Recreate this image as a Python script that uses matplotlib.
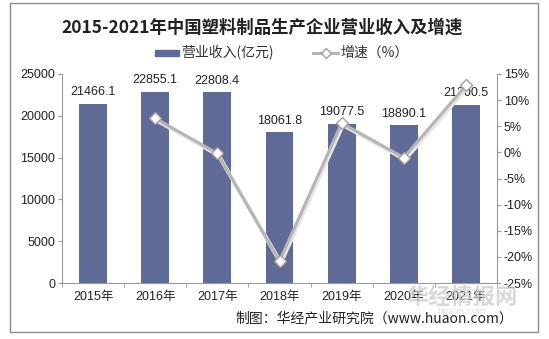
import matplotlib
matplotlib.use("Agg")
import matplotlib.pyplot as plt
from matplotlib.patches import Rectangle
import numpy as np

plt.rcParams['font.family'] = ['Liberation Sans', 'Noto Sans CJK SC', 'DejaVu Sans']

years = ['2015年', '2016年', '2017年', '2018年', '2019年', '2020年', '2021年']
revenue = [21466.1, 22855.1, 22808.4, 18061.8, 19077.5, 18890.1, 21300.5]
growth = [None, 6.5, -0.2, -20.8, 5.6, -1.0, 12.8]
left_ticks = [0, 5000, 10000, 15000, 20000, 25000]
right_ticks = [-25, -20, -15, -10, -5, 0, 5, 10, 15]

W, H = 549, 339
fig = plt.figure(figsize=(W / 100, H / 100), dpi=100)
fig.patch.set_facecolor('white')

# outer border
fig.add_artist(Rectangle((10 / W, 1 - 332 / H), (538 - 10) / W, (332 - 3) / H,
                         transform=fig.transFigure, fill=False, edgecolor='#8c8c8c', lw=1))

ax = fig.add_axes([62 / W, 1 - 283 / H, (497 - 62) / W, (283 - 74) / H])
x = np.arange(len(years))
bar_color = '#5f6b96'
ax.bar(x, revenue, width=0.45, color=bar_color, zorder=2)
ax.set_xlim(-0.5, len(years) - 0.5)
ax.set_ylim(0, 25000)
ax.set_yticks(left_ticks)
ax.set_yticklabels([str(t) for t in left_ticks], fontsize=9, color='#222222')
ax.set_xticks(x)
ax.set_xticklabels(years, fontsize=9, color='#222222')
ax.set_xticks(np.arange(-0.5, len(years) + 0.5, 1), minor=True)
ax.tick_params(axis='x', which='major', length=0, pad=6)
ax.tick_params(axis='x', which='minor', length=3, color='#999999')
ax.tick_params(axis='y', length=3, color='#999999', pad=2)
for s in ['top', 'right']:
    ax.spines[s].set_visible(False)
ax.spines['left'].set_color('#999999')
ax.spines['bottom'].set_color('#999999')

for xi, v in zip(x, revenue):
    ax.text(xi, v + 650, f'{v:.1f}', ha='center', va='bottom', fontsize=9, color='#222222', zorder=5)

ax2 = ax.twinx()
ax2.set_ylim(-25, 15)
ax2.set_yticks(right_ticks)
ax2.set_yticklabels([f'{t}%' for t in right_ticks], fontsize=9, color='#222222')
ax2.tick_params(axis='y', length=3, color='#999999', pad=2)
for s in ['top', 'left', 'bottom']:
    ax2.spines[s].set_visible(False)
ax2.spines['right'].set_color('#999999')

gx = [xi for xi, g in zip(x, growth) if g is not None]
gy = [g for g in growth if g is not None]
# soft shadow
ax2.plot(np.array(gx) + 0.02, np.array(gy) - 0.35, color='#e6e6e6', lw=3, zorder=2)
ax2.plot(gx, gy, color='#b5b5b5', lw=2.2, marker='D', markersize=6.5,
         markerfacecolor='white', markeredgecolor='#a0a0a0', markeredgewidth=1, zorder=3)

# title
fig.text(262 / W, 1 - 28 / H, '2015-2021年中国塑料制品生产企业营业收入及增速',
         ha='center', va='center', fontsize=12.5, fontweight='bold', color='#222222',
         family=['Noto Sans CJK SC', 'DejaVu Sans'])

# legend
ly = 1 - 53 / H
fig.add_artist(Rectangle((155 / W, ly - 3 / H), 24 / W, 6 / H, transform=fig.transFigure,
                         color=bar_color))
fig.text(181 / W, ly, '营业收入(亿元)', ha='left', va='center', fontsize=10, color='#333333',
         family=['Noto Sans CJK SC', 'DejaVu Sans'])
fig.add_artist(plt.Line2D([313 / W, 338 / W], [ly, ly], transform=fig.transFigure,
                          color='#b5b5b5', lw=2.2))
fig.add_artist(plt.Line2D([325.5 / W], [ly], transform=fig.transFigure, marker='D',
                          markersize=5, markerfacecolor='white', markeredgecolor='#a0a0a0',
                          markeredgewidth=1))
fig.text(340 / W, ly, '增速（%）', ha='left', va='center', fontsize=10, color='#333333',
         family=['Noto Sans CJK SC', 'DejaVu Sans'])

# watermark
fig.text(462 / W, 1 - 297 / H, '华经情报网', ha='center', va='center', fontsize=16,
         fontweight='bold', color='#cccccc', alpha=0.75, family=['Noto Sans CJK SC', 'DejaVu Sans'])
fig.text(462 / W, 1 - 311 / H, 'huaon.com', ha='center', va='center', fontsize=8,
         color='#e0e0e0', family=['Liberation Serif', 'DejaVu Serif'])

# source
fig.text(513 / W, 1 - 318 / H, '制图：华经产业研究院（www.huaon.com）', ha='right', va='center',
         fontsize=10, color='#222222', family=['Noto Sans CJK SC', 'DejaVu Sans'])

fig.savefig('out.png', dpi=100, facecolor='white')
